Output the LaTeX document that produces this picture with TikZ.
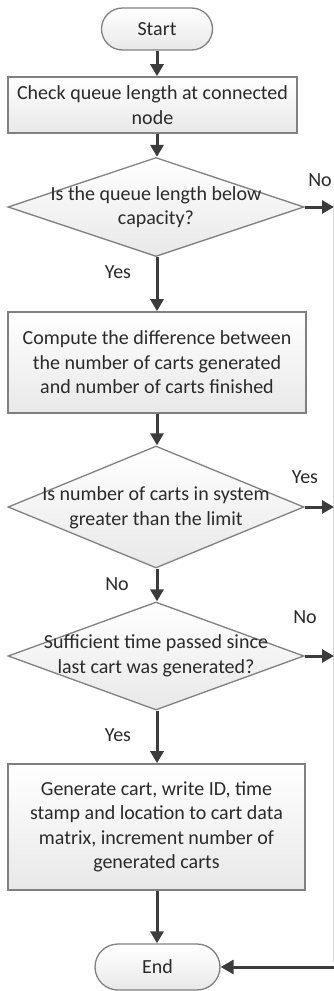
\documentclass[tikz,border=0pt]{standalone}
\usepackage{fontspec}
\setmainfont{Carlito}
\usetikzlibrary{shapes.geometric,shapes.misc,arrows.meta}
\definecolor{edgegray}{HTML}{808080}
\definecolor{flowgray}{HTML}{3C3C3C}
\definecolor{txtgray}{HTML}{2A2A2A}
\definecolor{railgray}{HTML}{D8D8D8}
\begin{document}
\begin{tikzpicture}[x=1pt,y=-1pt,
  font=\fontsize{20}{24.5}\selectfont, text=txtgray,
  shapebase/.style={draw=edgegray, line width=1.3pt, top color=white, bottom color=black!9, inner sep=0pt},
  terminal/.style={shapebase, rounded rectangle},
  process/.style={shapebase, rectangle, line width=1.6pt},
  decision/.style={shapebase, diamond},
  flow/.style={draw=flowgray, line width=3pt, -{Triangle[length=12pt,width=13pt]}},
  rail/.style={draw=railgray, line width=1pt},
  lbl/.style={inner sep=0pt, anchor=center}
]
\useasboundingbox (0,0) rectangle (334,991);

% main column
\node[terminal, minimum width=111pt, minimum height=42pt] (start) at (157,29) {Start};
\node[process, minimum width=289pt, minimum height=56pt, align=center] (check) at (152.5,105)
  {Check queue length at connected\\node};
\node[decision, minimum width=296pt, minimum height=99pt] (cap) at (156,207) {};
\node[lbl, align=center] (captext) at (156,207) {Is the queue length below\\capacity?};
\node[process, minimum width=298pt, minimum height=101pt, align=center] (diff) at (157,362.5)
  {Compute the difference between\\the number of carts generated\\and number of carts finished};
\node[decision, minimum width=296pt, minimum height=122pt] (limit) at (156,507) {};
\node[lbl, align=center] (limittext) at (156,508) {Is number of carts in system\\greater than the limit};
\node[decision, minimum width=296pt, minimum height=108pt] (time) at (156,656) {};
\node[lbl, align=center] (timetext) at (156,656) {Sufficient time passed since\\last cart was generated?};
\node[process, minimum width=297pt, minimum height=126pt, align=center] (gen) at (156.5,827)
  {Generate cart, write ID, time\\stamp and location to cart data\\matrix, increment number of\\generated carts};
\node[terminal, minimum width=125pt, minimum height=46pt] (end) at (157.5,967) {End};

% exits on the right edge
\coordinate (capout) at (334,207);
\coordinate (limitout) at (334,507);
\coordinate (timeout) at (334,656);
\coordinate (railtop) at (333,205);
\coordinate (railbot) at (333,962);
\coordinate (endin) at (334,967);

% branch labels
\node[lbl] (capno) at (320,180) {No};
\node[lbl] (capyes) at (118,272) {Yes};
\node[lbl] (limityes) at (305,477) {Yes};
\node[lbl] (limitno) at (117,584) {No};
\node[lbl] (timeno) at (305,617) {No};
\node[lbl] (timeyes) at (118,735) {Yes};

% return rail
\draw[rail] (railtop) -- (railbot);

% connectors
\draw[flow] (start.south) -- (start.south |- check.north);
\draw[flow] (start.south |- check.south) -- (start.south |- cap.north);
\draw[flow] (start.south |- cap.south) -- (start.south |- diff.north);
\draw[flow] (start.south |- diff.south) -- (start.south |- limit.north);
\draw[flow] (start.south |- limit.south) -- (start.south |- time.north);
\draw[flow] (start.south |- time.south) -- (start.south |- gen.north);
\draw[flow] (start.south |- gen.south) -- (start.south |- end.north);
\draw[flow] (cap.east) -- (capout);
\draw[flow] (limit.east) -- (limitout);
\draw[flow] (time.east) -- (timeout);
\draw[flow, -{Triangle[length=13pt,width=14pt]}] (endin) -- (end.east);
\end{tikzpicture}
\end{document}
